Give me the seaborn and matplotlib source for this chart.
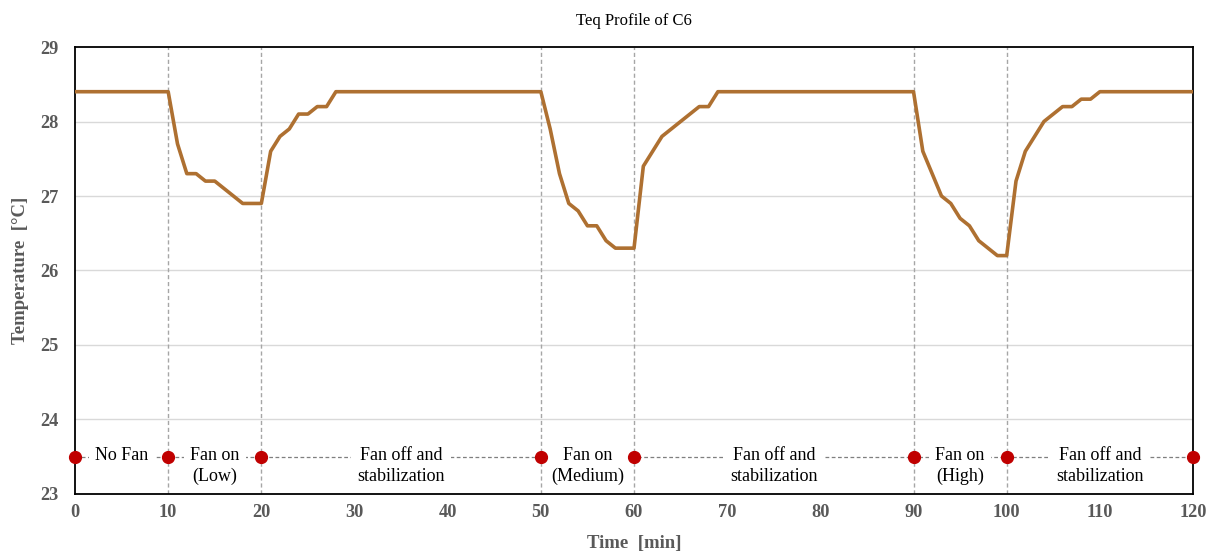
import numpy as np
import pandas as pd
import matplotlib
matplotlib.use("Agg")
import matplotlib.pyplot as plt
import seaborn as sns

# Equivalent temperature of C6, sampled every minute, grouped by test phase
temp_no_fan = [28.4, 28.4, 28.4, 28.4, 28.4, 28.4, 28.4, 28.4, 28.4, 28.4, 28.4]  # 0-10
temp_fan_low = [27.7, 27.3, 27.3, 27.2, 27.2, 27.1, 27.0, 26.9, 26.9, 26.9]  # 11-20
temp_recovery_low = [27.6, 27.8, 27.9, 28.1, 28.1, 28.2, 28.2, 28.4, 28.4, 28.4,
                     28.4, 28.4, 28.4, 28.4, 28.4, 28.4, 28.4, 28.4, 28.4, 28.4,
                     28.4, 28.4, 28.4, 28.4, 28.4, 28.4, 28.4, 28.4, 28.4, 28.4]  # 21-50
temp_fan_medium = [27.9, 27.3, 26.9, 26.8, 26.6, 26.6, 26.4, 26.3, 26.3, 26.3]  # 51-60
temp_recovery_medium = [27.4, 27.6, 27.8, 27.9, 28.0, 28.1, 28.2, 28.2, 28.4, 28.4,
                        28.4, 28.4, 28.4, 28.4, 28.4, 28.4, 28.4, 28.4, 28.4, 28.4,
                        28.4, 28.4, 28.4, 28.4, 28.4, 28.4, 28.4, 28.4, 28.4, 28.4]  # 61-90
temp_fan_high = [27.6, 27.3, 27.0, 26.9, 26.7, 26.6, 26.4, 26.3, 26.2, 26.2]  # 91-100
temp_recovery_high = [27.2, 27.6, 27.8, 28.0, 28.1, 28.2, 28.2, 28.3, 28.3, 28.4,
                      28.4, 28.4, 28.4, 28.4, 28.4, 28.4, 28.4, 28.4, 28.4, 28.4]  # 101-120

# Phase boundaries [min] and phase names
phase_edges = [0, 10, 20, 50, 60, 90, 100, 120]
phase_labels = ["No Fan", "Fan on\n(Low)", "Fan off and\nstabilization",
                "Fan on\n(Medium)", "Fan off and\nstabilization",
                "Fan on\n(High)", "Fan off and\nstabilization"]
phase_marker_level = 23.5

x_ticks = [0, 10, 20, 30, 40, 50, 60, 70, 80, 90, 100, 110, 120]
y_ticks = [23, 24, 25, 26, 27, 28, 29]

temperature = (temp_no_fan + temp_fan_low + temp_recovery_low + temp_fan_medium
               + temp_recovery_medium + temp_fan_high + temp_recovery_high)
minutes = list(range(len(temperature)))
df = pd.DataFrame({"Time": minutes, "Teq": temperature})

sns.set_theme(style="white")
plt.rcParams["font.family"] = ["Liberation Serif", "DejaVu Serif"]

fig = plt.figure(figsize=(12.08, 5.53), dpi=100)
ax = fig.add_axes([0.0621, 0.1067, 0.9255, 0.8083])

label_gray = "#595959"
line_color = "#AE7031"

# horizontal grid
for y in y_ticks[1:-1]:
    ax.axhline(y, color="#D9D9D9", linewidth=1.0, zorder=0)

# phase boundaries
for edge in phase_edges[1:-1]:
    ax.axvline(edge, color="#A6A6A6", linestyle=(0, (3, 2)), linewidth=1.0, zorder=1)

sns.lineplot(data=df, x="Time", y="Teq", ax=ax, color=line_color,
             linewidth=2.6, zorder=3)

# phase timeline along the bottom
ax.plot([phase_edges[0], phase_edges[-1]], [phase_marker_level] * 2,
        color="#7F7F7F", linestyle=(0, (3, 2)), linewidth=0.9, zorder=2)
for start, end, label in zip(phase_edges[:-1], phase_edges[1:], phase_labels):
    ax.text((start + end) / 2, phase_marker_level + 0.135, label,
            ha="center", va="top", fontsize=13, color="black",
            linespacing=1.3, zorder=4,
            bbox=dict(boxstyle="square,pad=0.35", facecolor="white", edgecolor="none"))
ax.plot(phase_edges, [phase_marker_level] * len(phase_edges), linestyle="none",
        marker="o", markersize=8.5, color="#C00000", clip_on=False, zorder=5)

ax.set_xlim(0, 120)
ax.set_ylim(23, 29)
ax.set_xticks(x_ticks)
ax.set_yticks(y_ticks)
ax.tick_params(axis="both", length=0, labelsize=13.2, labelcolor=label_gray)
ax.tick_params(axis="x", pad=7)
ax.tick_params(axis="y", pad=12)
for lbl in ax.get_xticklabels() + ax.get_yticklabels():
    lbl.set_fontweight("bold")

for spine in ax.spines.values():
    spine.set_visible(True)
    spine.set_color("black")
    spine.set_linewidth(1.3)

ax.set_title("Teq Profile of C6", fontsize=12, color="black", pad=16)
ax.set_xlabel("Time  [min]", fontsize=13.5, fontweight="bold", color=label_gray, labelpad=10)
ax.set_ylabel("Temperature  [\u00b0C]", fontsize=13.5, fontweight="bold", color=label_gray, labelpad=8)

fig.savefig("out.png", dpi=100)
